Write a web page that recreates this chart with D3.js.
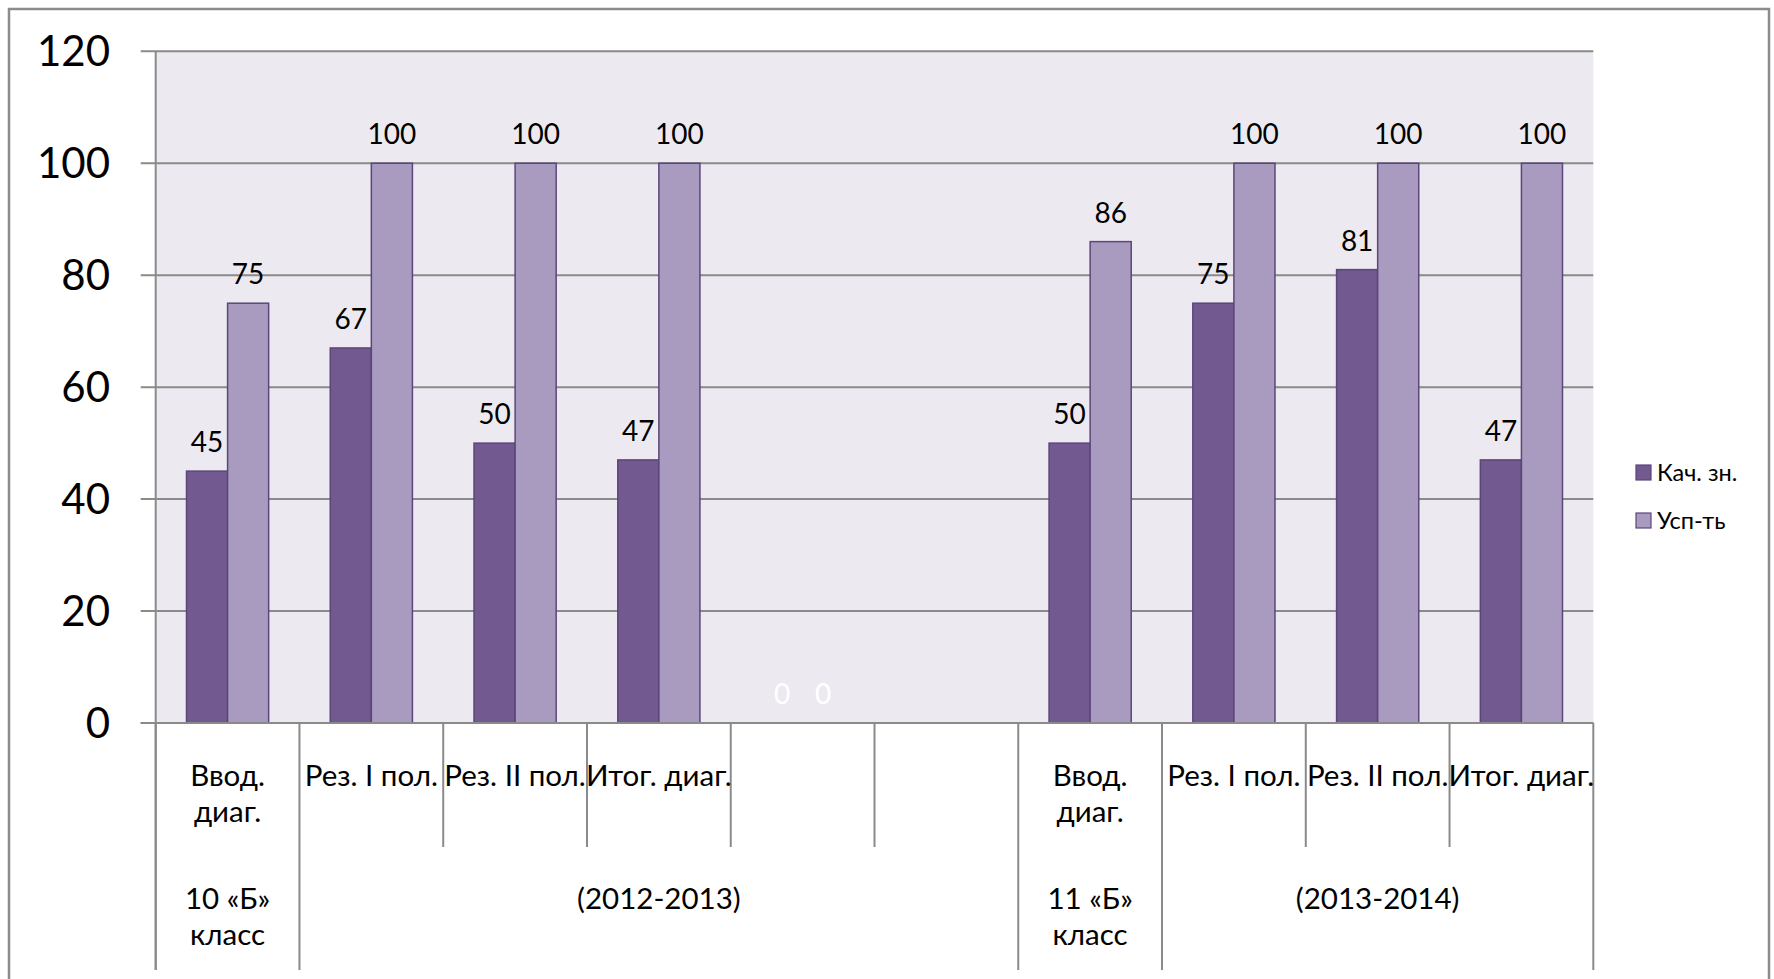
<!DOCTYPE html>
<html>
<head>
<meta charset="utf-8">
<script src="https://cdn.jsdelivr.net/npm/d3@7"></script>
<style>
  html, body { margin: 0; padding: 0; background: #fff; }
  svg { display: block; }
  text { font-family: Lato, "Open Sans", "Noto Sans", sans-serif; fill: #000; }
</style>
</head>
<body>
<svg id="chart" width="1774" height="979"></svg>
<script>
// ---- data ----
const categories = ["Ввод.\nдиаг.", "Рез. I пол.", "Рез. II пол.", "Итог. диаг.", "", "",
                    "Ввод.\nдиаг.", "Рез. I пол.", "Рез. II пол.", "Итог. диаг."];
const groupLabels = ["10 «Б»\nкласс", "(2012-2013)", "11 «Б»\nкласс", "(2013-2014)"];
const groupSpans = [1, 5, 1, 3];
const seriesNames = ["Кач. зн.", "Усп-ть"];
const kach = [45, 67, 50, 47, 0, null, 50, 75, 81, 47];
const usp  = [75, 100, 100, 100, 0, null, 86, 100, 100, 100];
const yTicks = [0, 20, 40, 60, 80, 100, 120];

const colors = ["#72598F", "#A99BBF"];
const strokeCol = "#5B467A";
const gridCol = "#8A8A8A";

const svg = d3.select("#chart");

// frame
svg.append("rect").attr("x", 9).attr("y", 9).attr("width", 1760).attr("height", 1000)
  .attr("fill", "#fff").attr("stroke", "#8C8C8C").attr("stroke-width", 2.5);

const pLeft = 155.7, pRight = 1593.3, pTop = 51.3, pBottom = 723;
const x = d3.scaleBand().domain(d3.range(categories.length)).range([pLeft, pRight]).padding(0);
const y = d3.scaleLinear().domain([0, 120]).range([pBottom, pTop]);
const bw = x.bandwidth() / 3.5;
const xs = d3.scaleBand().domain([0, 1]).range([0.75 * bw, 2.75 * bw]).padding(0);

// plot background
svg.append("rect").attr("x", pLeft).attr("y", y(120)).attr("width", pRight - pLeft)
  .attr("height", y(0) - y(120)).attr("fill", "#ECEAF0");

// gridlines + ticks
svg.append("g").selectAll("line").data(yTicks).join("line")
  .attr("x1", pLeft - 15).attr("x2", pRight)
  .attr("y1", d => y(d)).attr("y2", d => y(d))
  .attr("stroke", gridCol).attr("stroke-width", 2);

// y tick labels
svg.append("g").selectAll("text").data(yTicks).join("text")
  .attr("x", 110).attr("y", d => y(d)).attr("dy", "0.36em")
  .attr("text-anchor", "end").style("font-size", "42px").text(d => d);

// y axis line
svg.append("line").attr("x1", pLeft).attr("x2", pLeft).attr("y1", y(120)).attr("y2", 970)
  .attr("stroke", gridCol).attr("stroke-width", 2);

// bars
const series = [kach, usp];
series.forEach((vals, si) => {
  const g = svg.append("g");
  vals.forEach((v, i) => {
    if (v === null) return;
    const bx = x(i) + xs(si);
    if (v > 0) {
      g.append("rect").attr("x", bx).attr("y", y(v)).attr("width", xs.bandwidth())
        .attr("height", y(0) - y(v)).attr("fill", colors[si])
        .attr("stroke", strokeCol).attr("stroke-width", 1.5);
    }
    g.append("text").attr("x", bx + xs.bandwidth() / 2).attr("y", y(v) - 19)
      .attr("text-anchor", "middle").style("font-size", "28px")
      .style("fill", v === 0 ? "#fff" : "#000").text(v);
  });
});

// category axis
const boundaries = d3.range(categories.length + 1);
const groupBounds = [0];
groupSpans.forEach(s => groupBounds.push(groupBounds[groupBounds.length - 1] + s));
const xb = i => i < categories.length ? x(i) : pRight;

svg.append("line").attr("x1", pLeft - 15).attr("x2", pRight).attr("y1", pBottom).attr("y2", pBottom)
  .attr("stroke", gridCol).attr("stroke-width", 2);
svg.append("g").selectAll("line").data(boundaries).join("line")
  .attr("x1", d => xb(d)).attr("x2", d => xb(d)).attr("y1", pBottom)
  .attr("y2", d => groupBounds.includes(d) ? 970 : 847)
  .attr("stroke", gridCol).attr("stroke-width", 2);

function multiline(sel, str, cx, baseline, size, lh) {
  const t = sel.append("text").attr("x", cx).attr("y", baseline)
    .attr("text-anchor", "middle").style("font-size", size + "px");
  str.split("\n").forEach((line, k) => {
    t.append("tspan").attr("x", cx).attr("dy", k === 0 ? 0 : lh).text(line);
  });
}
const catG = svg.append("g");
categories.forEach((c, i) => {
  if (c) multiline(catG, c, x(i) + x.bandwidth() / 2, 786, 29.5, 36);
});
groupLabels.forEach((g, k) => {
  const cx = (xb(groupBounds[k]) + xb(groupBounds[k + 1])) / 2;
  multiline(catG, g, cx, 909, 29.5, 36);
});

// legend
const lg = svg.append("g");
seriesNames.forEach((n, i) => {
  const ly = 465 + i * 48;
  lg.append("rect").attr("x", 1636).attr("y", ly).attr("width", 15).attr("height", 15)
    .attr("fill", colors[i]).attr("stroke", strokeCol).attr("stroke-width", 1.2);
  lg.append("text").attr("x", 1657).attr("y", ly + 7.5).attr("dy", "0.36em")
    .style("font-size", "23.5px").text(n);
});
</script>
</body>
</html>
